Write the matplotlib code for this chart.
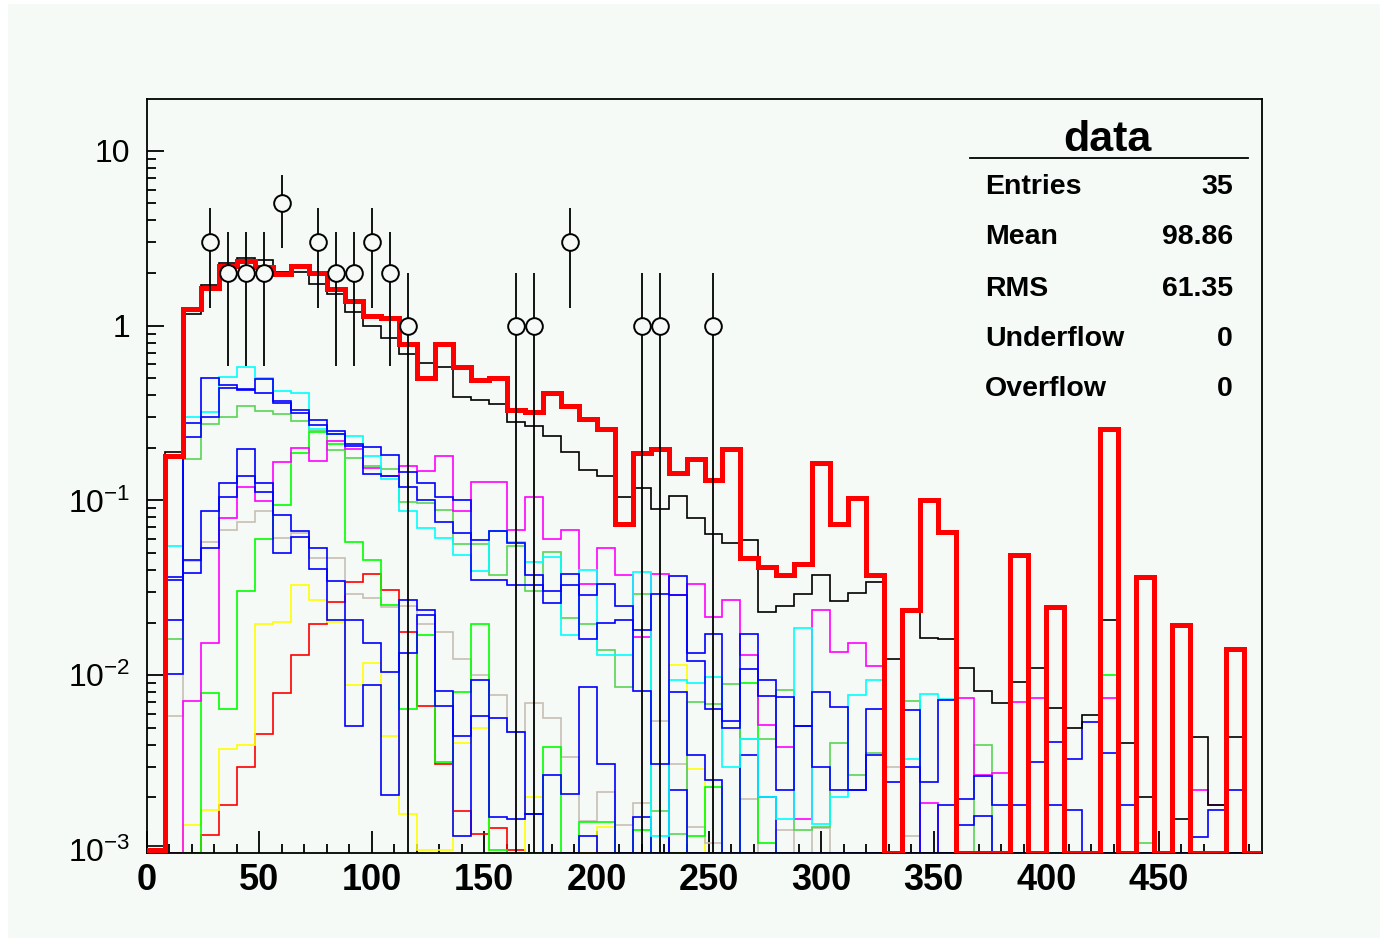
import numpy as np
import matplotlib
matplotlib.use("Agg")
import matplotlib.pyplot as plt
from matplotlib.patches import Rectangle
from matplotlib.lines import Line2D
from matplotlib.ticker import MultipleLocator, LogLocator, NullFormatter

plt.rcParams['font.family'] = ['Liberation Sans', 'DejaVu Sans']

# ---------------- data ----------------
edges = np.arange(0, 497, 8)

red_thick = [0.001, 0.18, 1.25, 1.65, 2.2, 2.35, 2.17, 1.97, 2.2, 2.0, 1.62, 1.39, 1.13, 1.10, 0.78, 0.50,
             0.78, 0.58, 0.49, 0.50, 0.327, 0.32, 0.41, 0.345, 0.293, 0.257, 0.073, 0.187, 0.197, 0.143,
             0.173, 0.13, 0.197, 0.0465, 0.0418, 0.0373, 0.0434, 0.163, 0.073, 0.103, 0.0376, 0, 0.0235,
             0.1, 0.0655, 0, 0, 0, 0.049, 0, 0.0245, 0, 0, 0.257, 0, 0.0366, 0, 0.0193, 0, 0, 0.0142, 0]

black = [0.00105, 0.189, 1.17, 1.71, 2.27, 2.44, 2.38, 2.03, 2.03, 1.74, 1.52, 1.20, 1.0, 0.85, 0.69, 0.61,
         0.58, 0.39, 0.376, 0.357, 0.28, 0.265, 0.232, 0.189, 0.15, 0.138, 0.104, 0.118, 0.089, 0.106,
         0.079, 0.0646, 0.057, 0.0597, 0.0231, 0.0249, 0.0292, 0.0376, 0.0266, 0.0295, 0.0342, 0.0123,
         0.0231, 0.0163, 0.0161, 0.011, 0.0081, 0.0069, 0.0091, 0.011, 0.0065, 0.005, 0.0059, 0.0208,
         0.0041, 0.002, 0, 0.0015, 0.0044, 0.0018, 0.0044, 0]

cyan = [0, 0.055, 0.30, 0.32, 0.51, 0.58, 0.50, 0.425, 0.41, 0.257, 0.24, 0.232, 0.18, 0.133, 0.0865, 0.0695,
        0.061, 0.0485, 0.0393, 0.067, 0.0578, 0.0444, 0.0475, 0.0169, 0.0402, 0.013, 0.013, 0.039, 0.0012,
        0.0094, 0.009, 0.0098, 0.003, 0.0043, 0.002, 0.0015, 0.0186, 0.0014, 0.002, 0.0077, 0.0094, 0,
        0.0033, 0.0078, 0.0073, 0, 0, 0, 0, 0, 0, 0, 0, 0, 0, 0, 0, 0, 0, 0, 0, 0]

magenta = [0, 0, 0.0071, 0.0152, 0.079, 0.119, 0.0987, 0.166, 0.2, 0.167, 0.218, 0.197, 0.154, 0.137, 0.157,
           0.147, 0.18, 0.0865, 0.128, 0.128, 0.068, 0.104, 0.06, 0.068, 0.0334, 0.0535, 0.0373, 0.0166,
           0.038, 0.0287, 0.0334, 0.0216, 0.027, 0.013, 0.0052, 0.0039, 0.0015, 0.0237, 0.0136, 0.0152,
           0.0113, 0, 0, 0.00185, 0, 0.0074, 0.0027, 0.00274, 0.007, 0.0074, 0, 0, 0, 0.0074, 0, 0, 0, 0,
           0.0022, 0.0018, 0, 0]

light_green = [0, 0.016, 0.173, 0.274, 0.299, 0.349, 0.323, 0.313, 0.286, 0.251, 0.193, 0.175, 0.158, 0.152,
               0.098, 0.096, 0.0885, 0.0565, 0.0565, 0.0373, 0.0546, 0.0303, 0.0507, 0.0213, 0.0197, 0.014,
               0.0085, 0.0293, 0.00166, 0.00124, 0.007, 0.0068, 0.0089, 0.0043, 0.0043, 0.0082, 0.0013,
               0.00136, 0.0041, 0.0027, 0.0036, 0, 0.0071, 0, 0, 0, 0.004, 0, 0, 0, 0, 0, 0, 0, 0, 0.0011,
               0, 0, 0, 0, 0, 0]

green = [0, 0, 0, 0.0079, 0.0064, 0.0303, 0.0598, 0.0936, 0.186, 0.245, 0.211, 0.0578, 0.0458, 0.0251, 0.0064,
         0.0169, 0.0032, 0.008, 0.0197, 0.001, 0, 0, 0.0039, 0, 0.00145, 0.00145, 0, 0.0013, 0, 0, 0.0012,
         0.0023, 0, 0.009, 0.0011, 0, 0, 0, 0, 0, 0, 0, 0, 0, 0, 0, 0, 0, 0, 0, 0, 0, 0, 0.01, 0, 0, 0, 0,
         0, 0, 0, 0]

tan = [0, 0.00586, 0.0449, 0.0578, 0.068, 0.075, 0.0865, 0.0613, 0.065, 0.047, 0.047, 0.0293, 0.0278, 0.0246,
       0.0248, 0.0197, 0.0177, 0.0123, 0.01, 0.0077, 0.0047, 0.0069, 0.0057, 0.0034, 0.00147, 0.00215,
       0.00139, 0.00185, 0.0055, 0.0031, 0.00135, 0.0011, 0, 0.00195, 0, 0.0013, 0, 0.00134, 0, 0, 0,
       0.003, 0.0012, 0, 0, 0, 0, 0, 0, 0, 0, 0, 0, 0, 0, 0, 0, 0, 0, 0, 0, 0]

yellow = [0, 0, 0.00139, 0.0017, 0.0038, 0.004, 0.0197, 0.0202, 0.0327, 0.027, 0.0202, 0.0088, 0.0117,
          0.0045, 0.0016, 0.001, 0.001, 0.0041, 0.005, 0, 0, 0.002, 0, 0, 0, 0.00136, 0, 0, 0, 0.0114,
          0.0029, 0, 0, 0, 0, 0, 0, 0, 0, 0, 0, 0, 0, 0, 0, 0, 0, 0, 0, 0, 0, 0, 0, 0, 0, 0, 0, 0, 0, 0,
          0, 0]

red_thin = [0, 0, 0, 0.00122, 0.0018, 0.003, 0.0046, 0.0079, 0.013, 0.0197, 0.0262, 0.0341, 0.0377, 0.0309,
            0.0177, 0.0067, 0.0031, 0.00166, 0.00124, 0.00134, 0.001, 0, 0, 0, 0, 0, 0, 0, 0, 0, 0, 0, 0,
            0, 0, 0, 0, 0, 0, 0, 0, 0, 0, 0, 0, 0, 0, 0, 0, 0, 0, 0, 0, 0, 0, 0, 0, 0, 0, 0, 0, 0]

blue_a = [0, 0.0349, 0.277, 0.50, 0.46, 0.435, 0.495, 0.369, 0.33, 0.289, 0.248, 0.211, 0.202, 0.182, 0.145,
          0.125, 0.104, 0.1, 0.0596, 0.0668, 0.057, 0.0373, 0.0303, 0.038, 0.0287, 0.0334, 0.025, 0.0181,
          0.0293, 0.0368, 0.0133, 0.0173, 0.0055, 0.0173, 0.0094, 0.0075, 0.0051, 0.008, 0.0066, 0.0022,
          0.0064, 0.00245, 0.0063, 0.00245, 0.0072, 0.00195, 0.00266, 0.0018, 0.0018, 0.0032, 0.00416,
          0.0033, 0.0054, 0.0036, 0.0018, 0, 0, 0, 0.00118, 0.0017, 0.0022, 0]

blue_b = [0, 0.0365, 0.23, 0.30, 0.44, 0.43, 0.41, 0.36, 0.316, 0.27, 0.24, 0.205, 0.142, 0.137, 0.12, 0.1,
          0.075, 0.065, 0.035, 0.035, 0.033, 0.033, 0.0257, 0.033, 0.0162, 0.02, 0.0208, 0.0081, 0.0031,
          0.0287, 0.012, 0.0064, 0.005, 0.0108, 0.0076, 0.0022, 0.0051, 0.003, 0.0022, 0.0022, 0.0035, 0,
          0.003, 0, 0.0018, 0.00138, 0.00157, 0, 0, 0, 0.0018, 0.0017, 0, 0, 0, 0, 0, 0, 0, 0, 0, 0]

blue_c = [0, 0.0208, 0.0458, 0.0865, 0.125, 0.196, 0.125, 0.082, 0.0668, 0.0535, 0.0346, 0.0208, 0.0152,
          0.0104, 0.027, 0.0237, 0.0081, 0.0045, 0.0094, 0.0057, 0.0047, 0.0016, 0.0027, 0.0021, 0.0085,
          0.0031, 0, 0.00155, 0, 0.008, 0.0035, 0.0025, 0, 0.0035, 0.002, 0, 0, 0, 0, 0, 0, 0, 0, 0, 0, 0,
          0, 0, 0, 0, 0, 0, 0, 0, 0, 0, 0, 0, 0, 0, 0, 0]

blue_d = [0, 0.0102, 0.0385, 0.0535, 0.104, 0.138, 0.112, 0.05, 0.0617, 0.0407, 0.0208, 0.0051, 0.0088,
          0.00206, 0.0133, 0.0222, 0.0067, 0.0012, 0.0058, 0.00155, 0.0015, 0.0016, 0, 0, 0.0012, 0, 0, 0,
          0, 0.0022, 0, 0, 0, 0, 0, 0, 0, 0, 0, 0, 0, 0, 0, 0, 0, 0, 0, 0, 0, 0, 0, 0, 0, 0, 0, 0, 0, 0, 0,
          0, 0, 0]

data_x = [28, 36, 44, 52, 60, 76, 84, 92, 100, 108, 116, 164, 172, 188, 220, 228, 252]
data_n = [3, 2, 2, 2, 5, 3, 2, 2, 3, 2, 1, 1, 1, 3, 1, 1, 1]

stats_labels = ["Entries", "Mean", "RMS", "Underflow", "Overflow"]
stats_values = ["35", "98.86", "61.35", "0", "0"]

x_ticks = [0, 50, 100, 150, 200, 250, 300, 350, 400, 450]
y_ticks = [1e-3, 1e-2, 1e-1, 1, 10]
y_ticklabels = [r'$\mathregular{10^{-3}}$', r'$\mathregular{10^{-2}}$', r'$\mathregular{10^{-1}}$', '1', '10']

# ---------------- figure ----------------
W, H = 1386, 942
BG = '#f5faf7'
YMIN, YMAX = 9.6e-4, 19.8

fig = plt.figure(figsize=(W / 100, H / 100), dpi=100)
fig.patch.set_facecolor('white')
fig.patches.append(Rectangle((8 / W, 1 - 938 / H), (1380 - 8) / W, (938 - 4) / H,
                             transform=fig.transFigure, facecolor=BG, edgecolor='none', zorder=-10))

ax = fig.add_axes([147 / W, 1 - 853 / H, (1262 - 147) / W, (853 - 99) / H])
ax.set_facecolor(BG)
ax.set_yscale('log')
ax.set_xlim(0, 496)
ax.set_ylim(YMIN, YMAX)

def draw(vals, color, lw, z):
    v = np.clip(np.asarray(vals, dtype=float), YMIN, None)
    ax.stairs(v, edges, baseline=YMIN, color=color, linewidth=lw, zorder=z)

thin = 1.2
draw(red_thin, '#ff0000', thin, 2)
draw(yellow, '#ffff00', thin, 2)
draw(tan, '#c8beb4', thin, 2)
draw(green, '#00ff00', thin, 2)
draw(light_green, '#59d454', thin, 2)
draw(magenta, '#ff00ff', thin, 2)
draw(blue_d, '#0000ff', thin, 2)
draw(blue_c, '#0000ff', thin, 2)
draw(cyan, '#00ffff', thin, 2)
draw(blue_b, '#0000ff', thin, 2)
draw(blue_a, '#0000ff', thin, 2)
draw(black, '#000000', thin, 3)
draw(red_thick, '#ff0000', 3.6, 4)

# data points with Poisson errors
dx = np.array(data_x, dtype=float)
dn = np.array(data_n, dtype=float)
err = np.sqrt(dn)
lower = dn - np.maximum(dn - err, YMIN * 0.5)
ax.errorbar(dx, dn, yerr=[lower, err], fmt='none', ecolor='black', elinewidth=1.3, capsize=0, zorder=5)
ax.plot(dx, dn, 'o', ms=12, mfc=BG, mec='black', mew=1.4, zorder=6, linestyle='none')

# axes styling
for s in ax.spines.values():
    s.set_linewidth(1.3)
    s.set_color('black')
ax.set_xticks(x_ticks)
ax.set_xticklabels([str(t) for t in x_ticks], fontweight='bold', fontsize=26)
ax.xaxis.set_minor_locator(MultipleLocator(10))
ax.set_yticks(y_ticks)
ax.set_yticklabels(y_ticklabels, fontsize=23)
ax.yaxis.set_minor_locator(LogLocator(base=10, subs=np.arange(2, 10)))
ax.yaxis.set_minor_formatter(NullFormatter())
ax.tick_params(axis='x', which='major', direction='in', length=16, width=1.3, pad=7,
               top=False, bottom=True)
ax.tick_params(axis='x', which='minor', direction='in', length=6.5, width=1.3, top=False)
ax.tick_params(axis='y', which='major', direction='in', length=12.5, width=1.3, pad=12,
               right=False, left=True)
ax.tick_params(axis='y', which='minor', direction='in', length=6.5, width=1.3, right=False)

# stats box
def fx(px):
    return px / W

def fy(py):
    return 1 - py / H

fig.text(fx(1107), fy(151), "data", ha='center', va='baseline', fontsize=31, fontweight='bold')
fig.add_artist(Line2D([fx(970), fx(1248)], [fy(158), fy(158)], transform=fig.transFigure,
                      color='black', linewidth=1.3))
row_y = [194, 244, 296, 346, 396]
for lab, val, yy in zip(stats_labels, stats_values, row_y):
    fig.text(fx(985), fy(yy), lab, ha='left', va='baseline', fontsize=20.5, fontweight='bold')
    fig.text(fx(1233), fy(yy), val, ha='right', va='baseline', fontsize=20.5, fontweight='bold')

fig.savefig('out.png', dpi=100, facecolor=fig.get_facecolor())
